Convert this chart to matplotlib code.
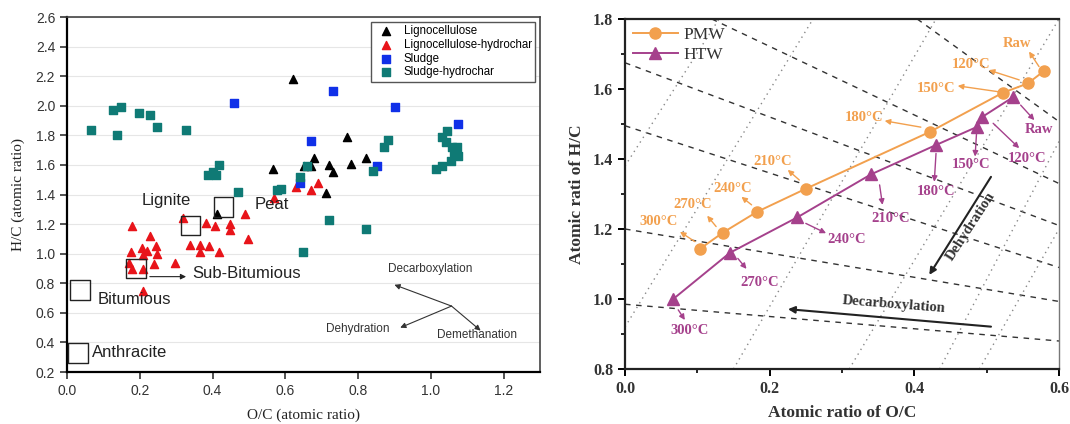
import numpy as np
import matplotlib.pyplot as plt

# ---- left panel data (van Krevelen, literature) ----
ligno_x = [0.62, 0.771, 0.822, 0.781, 0.679, 0.652, 0.67, 0.719, 0.731, 0.567, 0.712, 0.411]
ligno_y = [2.18, 1.79, 1.65, 1.61, 1.65, 1.59, 1.59, 1.60, 1.55, 1.57, 1.41, 1.267]

lhc_x = [0.569, 0.629, 0.67, 0.69, 0.178, 0.177, 0.17, 0.178, 0.21, 0.209, 0.206, 0.22,
         0.227, 0.238, 0.246, 0.247, 0.21, 0.298, 0.319, 0.381, 0.408, 0.448, 0.448,
         0.489, 0.497, 0.339, 0.367, 0.367, 0.39, 0.417]
lhc_y = [1.38, 1.45, 1.43, 1.48, 1.19, 1.01, 0.94, 0.90, 0.90, 0.75, 1.04, 1.02,
         1.12, 0.93, 1.05, 0.997, 0.99, 0.94, 1.24, 1.21, 1.19, 1.20, 1.16,
         1.27, 1.10, 1.06, 1.06, 1.01, 1.05, 1.01]

sludge_x = [0.459, 0.731, 0.902, 1.074, 0.67, 0.852, 0.641]
sludge_y = [2.02, 2.10, 1.99, 1.88, 1.76, 1.59, 1.48]

shc_x = [0.065, 0.126, 0.148, 0.137, 0.197, 0.228, 0.247, 0.328, 0.387, 0.40, 0.409, 0.418,
         0.469, 0.578, 0.589, 0.64, 0.661, 0.84, 0.871, 0.882, 1.013, 1.032, 1.045, 1.032,
         1.043, 1.057, 1.073, 1.064, 1.075, 1.055, 0.721, 0.821, 0.65]
shc_y = [1.84, 1.97, 1.99, 1.80, 1.95, 1.94, 1.86, 1.84, 1.53, 1.55, 1.53, 1.60,
         1.42, 1.43, 1.44, 1.52, 1.59, 1.56, 1.72, 1.77, 1.57, 1.59, 1.83, 1.79,
         1.756, 1.72, 1.72, 1.69, 1.66, 1.63, 1.23, 1.17, 1.01]

coal_names = ['Anthracite', 'Bitumious', 'Sub-Bitumious', 'Lignite', 'Peat']
coal_x = [0.03, 0.035, 0.19, 0.34, 0.43]
coal_y = [0.33, 0.755, 0.90, 1.19, 1.315]
coal_lab_x = [0.07, 0.083, 0.345, 0.205, 0.515]
coal_lab_y = [0.33, 0.69, 0.865, 1.36, 1.33]

# ---- right panel data ----
temps = ['Raw', '120°C', '150°C', '180°C', '210°C', '240°C', '270°C', '300°C']
pmw_x = [0.579, 0.557, 0.522, 0.422, 0.25, 0.1825, 0.1356, 0.1034]
pmw_y = [1.651, 1.616, 1.589, 1.478, 1.315, 1.249, 1.190, 1.143]
htw_x = [0.536, 0.493, 0.487, 0.43, 0.340, 0.238, 0.145, 0.0667]
htw_y = [1.576, 1.519, 1.492, 1.44, 1.356, 1.233, 1.132, 1.0]

# label positions and arrow (start -> end) for each temperature
pmw_lab_x = [0.5425, 0.478, 0.43, 0.331, 0.2046, 0.149, 0.093, 0.046]
pmw_lab_y = [1.73, 1.669, 1.602, 1.519, 1.392, 1.316, 1.271, 1.221]
pmw_arr = [(0.5724, 1.664, 0.5586, 1.707), (0.545, 1.626, 0.503, 1.654),
           (0.517, 1.592, 0.46, 1.609), (0.409, 1.491, 0.359, 1.509),
           (0.241, 1.34, 0.225, 1.369), (0.175, 1.269, 0.161, 1.292),
           (0.126, 1.207, 0.1136, 1.238), (0.0966, 1.164, 0.076, 1.192)]
htw_lab_x = [0.572, 0.556, 0.478, 0.43, 0.368, 0.306, 0.186, 0.0887]
htw_lab_y = [1.485, 1.402, 1.383, 1.307, 1.231, 1.169, 1.048, 0.911]
htw_arr = [(0.547, 1.554, 0.566, 1.511), (0.509, 1.502, 0.545, 1.431),
           (0.486, 1.473, 0.484, 1.407), (0.43, 1.416, 0.4276, 1.335),
           (0.352, 1.326, 0.356, 1.269), (0.25, 1.216, 0.278, 1.188),
           (0.156, 1.116, 0.168, 1.086), (0.0736, 0.969, 0.0828, 0.94)]

# reference lines (x0, y0, x1, y1)
dashed = [(0.12, 1.8, 0.6, 1.33), (0.404, 1.8, 0.6, 1.507), (0.0, 1.675, 0.6, 1.21),
          (0.0, 1.495, 0.6, 1.09), (0.0, 1.2, 0.6, 0.993), (0.0, 0.985, 0.6, 0.88)]
dotted = [(0.0, 1.38, 0.13, 1.8), (0.0, 0.92, 0.26, 1.8), (0.15, 0.8, 0.43, 1.8),
          (0.31, 0.8, 0.6, 1.8), (0.435, 0.8, 0.6, 1.45), (0.49, 0.8, 0.6, 1.2)]

ORANGE = '#f2a04e'
PURPLE = '#a5418c'
TEAL = '#0f7a75'

fig = plt.figure(figsize=(10.7, 4.24), dpi=100)

# ================= left panel =================
ax1 = fig.add_axes([0.0626, 0.1226, 0.442, 0.837])
ax1.set_xlim(0, 1.3)
ax1.set_ylim(0.2, 2.6)
ax1.set_yticks(np.arange(0.2, 2.61, 0.2))
ax1.set_xticks(np.arange(0.0, 1.21, 0.2))
ax1.yaxis.grid(True, color='#e6e6e6', lw=0.8)
ax1.set_axisbelow(True)
ax1.tick_params(direction='out', length=5, width=1.2, labelsize=10, colors='#333333')
ax1.set_xticklabels([f'{v:.1f}' for v in ax1.get_xticks()], family='Liberation Sans')
ax1.set_yticklabels([f'{v:.1f}' for v in ax1.get_yticks()], family='Liberation Sans')
for s in ['left', 'bottom']:
    ax1.spines[s].set_linewidth(1.6)
for s in ['top', 'right']:
    ax1.spines[s].set_linewidth(1.2)
    ax1.spines[s].set_color('#444444')

ax1.scatter(ligno_x, ligno_y, marker='^', s=34, color='black', label='Lignocellulose', zorder=3)
ax1.scatter(lhc_x, lhc_y, marker='^', s=34, color='#e8141a', label='Lignocellulose-hydrochar', zorder=3)
ax1.scatter(sludge_x, sludge_y, marker='s', s=26, color='#1030e8', label='Sludge', zorder=3)
ax1.scatter(shc_x, shc_y, marker='s', s=26, color=TEAL, label='Sludge-hydrochar', zorder=3)
ax1.scatter(coal_x, coal_y, marker='s', s=200, facecolor='none', edgecolor='#222222', lw=1.0, zorder=4)

for name, lx, ly in zip(coal_names, coal_lab_x, coal_lab_y):
    ax1.text(lx, ly, name, family='Liberation Sans', fontsize=12, color='#222222', va='center')
ax1.annotate('', xy=(0.335, 0.845), xytext=(0.22, 0.845),
             arrowprops=dict(arrowstyle='-|>', color='#222222', lw=0.8, mutation_scale=8))

ox, oy = 1.057, 0.646
for tx, ty in [(0.90, 0.79), (0.916, 0.50), (1.137, 0.48)]:
    ax1.annotate('', xy=(tx, ty), xytext=(ox, oy),
                 arrowprops=dict(arrowstyle='-|>', color='#333333', lw=0.8, mutation_scale=8,
                                 shrinkA=0, shrinkB=0))
pf = dict(family='Liberation Sans', fontsize=8.5, color='#333333', ha='center', va='center')
ax1.text(0.997, 0.90, 'Decarboxylation', **pf)
ax1.text(0.80, 0.49, 'Dehydration', **pf)
ax1.text(1.128, 0.448, 'Demethanation', **pf)

leg = ax1.legend(loc='upper right', prop={'family': 'Liberation Sans', 'size': 8.3},
                 fancybox=False, edgecolor='#555555', framealpha=1, borderaxespad=0.4,
                 handletextpad=0.5, labelspacing=0.15, borderpad=0.3, handlelength=2.0)
leg.get_frame().set_linewidth(1.0)

ax1.set_xlabel('O/C (atomic ratio)', family='Liberation Serif', fontsize=11, color='#222222', labelpad=8)
ax1.set_ylabel('H/C (atomic ratio)', family='Liberation Serif', fontsize=11, color='#222222', labelpad=8)

# ================= right panel =================
ax2 = fig.add_axes([0.5841, 0.1297, 0.4056, 0.8255])
ax2.set_xlim(0, 0.6)
ax2.set_ylim(0.8, 1.8)
ax2.set_xticks([0.0, 0.2, 0.4, 0.6])
ax2.set_xticks([0.1, 0.3, 0.5], minor=True)
ax2.set_yticks([0.8, 1.0, 1.2, 1.4, 1.6, 1.8])
ax2.set_yticks([0.9, 1.1, 1.3, 1.5, 1.7], minor=True)
ax2.tick_params(which='major', direction='out', length=5, width=1.4)
ax2.tick_params(which='minor', direction='out', length=3, width=1.2)
ax2.tick_params(top=False, right=False)
ax2.set_xticklabels(['0.0', '0.2', '0.4', '0.6'], family='Liberation Serif', fontsize=11.5,
                    fontweight='bold', color='#333333')
ax2.set_yticklabels(['0.8', '1.0', '1.2', '1.4', '1.6', '1.8'], family='Liberation Serif',
                    fontsize=11.5, fontweight='bold', color='#333333')
for s in ['left', 'bottom', 'top']:
    ax2.spines[s].set_linewidth(1.6)
    ax2.spines[s].set_color('#222222')
ax2.spines['right'].set_linewidth(1.0)
ax2.spines['right'].set_color('#777777')

for x0, y0, x1, y1 in dashed:
    ax2.plot([x0, x1], [y0, y1], ls=(0, (4, 4)), color='#333333', lw=1.0, zorder=1)
for x0, y0, x1, y1 in dotted:
    ax2.plot([x0, x1], [y0, y1], ls=(0, (1, 3)), color='#888888', lw=1.0, zorder=1)

ax2.plot(pmw_x, pmw_y, '-o', color=ORANGE, ms=8, lw=1.4, label='PMW', zorder=3)
ax2.plot(htw_x, htw_y, '-^', color=PURPLE, ms=9, lw=1.4, label='HTW', zorder=3)

tf = dict(family='Liberation Serif', fontsize=10.5, fontweight='bold', ha='center', va='center')
for i, t in enumerate(temps):
    ax2.text(pmw_lab_x[i], pmw_lab_y[i], t, color=ORANGE, **tf)
    x0, y0, x1, y1 = pmw_arr[i]
    ax2.annotate('', xy=(x1, y1), xytext=(x0, y0),
                 arrowprops=dict(arrowstyle='-|>', color=ORANGE, lw=1.0, mutation_scale=8,
                                 shrinkA=0, shrinkB=0))
    ax2.text(htw_lab_x[i], htw_lab_y[i], t, color=PURPLE, **tf)
    x0, y0, x1, y1 = htw_arr[i]
    ax2.annotate('', xy=(x1, y1), xytext=(x0, y0),
                 arrowprops=dict(arrowstyle='-|>', color=PURPLE, lw=1.0, mutation_scale=8,
                                 shrinkA=0, shrinkB=0))

ax2.annotate('', xy=(0.4207, 1.069), xytext=(0.506, 1.349),
             arrowprops=dict(arrowstyle='-|>', color='#222222', lw=1.5, mutation_scale=10,
                             shrinkA=0, shrinkB=0))
ax2.text(0.478, 1.207, 'Dehydration', rotation=57, family='Liberation Serif', fontsize=10.5,
         fontweight='bold', color='#333333', ha='center', va='center')
ax2.annotate('', xy=(0.2253, 0.971), xytext=(0.506, 0.921),
             arrowprops=dict(arrowstyle='-|>', color='#222222', lw=1.5, mutation_scale=10,
                             shrinkA=0, shrinkB=0))
ax2.text(0.372, 0.985, 'Decarboxylation', rotation=-4.5, family='Liberation Serif', fontsize=10.5,
         fontweight='bold', color='#333333', ha='center', va='center')

ax2.legend(loc='upper left', frameon=False, prop={'family': 'Liberation Serif', 'size': 12.5},
           borderaxespad=0.05, handlelength=2.6, handletextpad=0.3, labelspacing=0.2,
           labelcolor='#333333')

ax2.set_xlabel('Atomic ratio of O/C', family='Liberation Serif', fontsize=12.5, fontweight='bold',
               color='#333333', labelpad=6)
ax2.set_ylabel('Atomic rati of H/C', family='Liberation Serif', fontsize=12.5, fontweight='bold',
               color='#333333', labelpad=6)

fig.savefig('out.png', dpi=100)
